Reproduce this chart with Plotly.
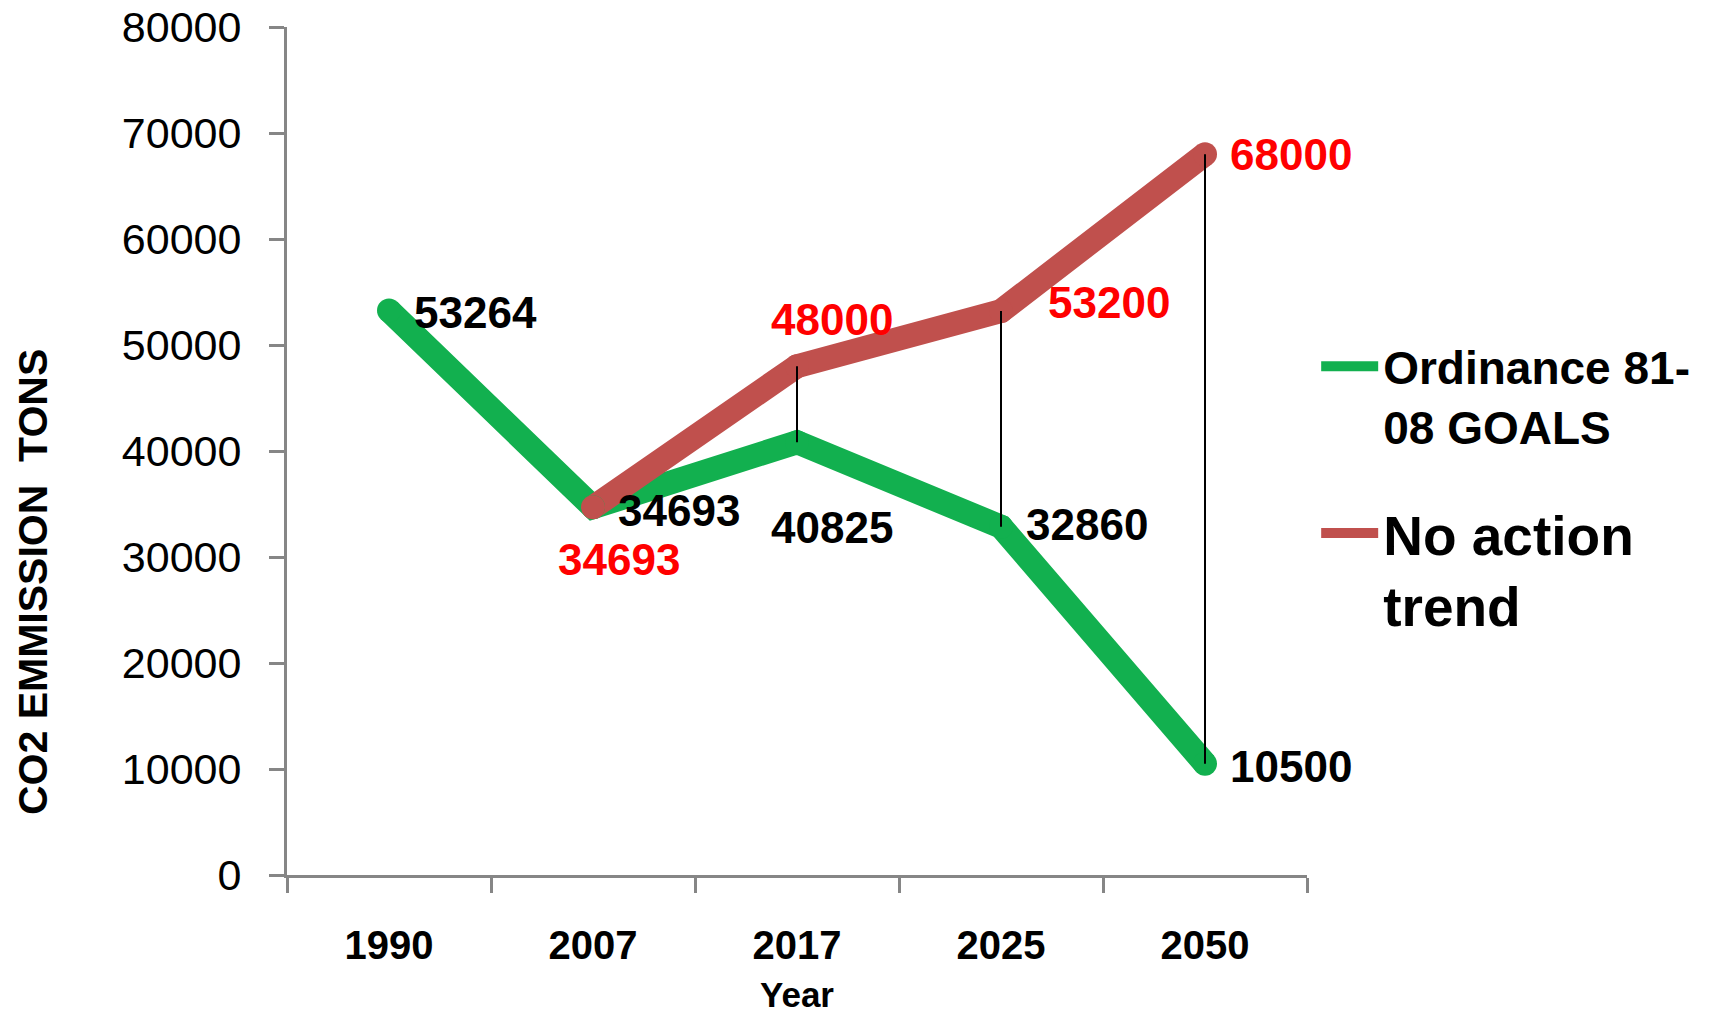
import plotly.graph_objects as go

years = ["1990", "2007", "2017", "2025", "2050"]
goals = [53264, 34693, 40825, 32860, 10500]
no_action = [None, 34693, 48000, 53200, 68000]
goal_name = "Ordinance 81-<br>08 GOALS"
trend_name = "No action<br>trend"

GREEN = "#12B04F"
RED = "#C0504D"
LW = 24

fig = go.Figure()
fig.add_trace(go.Scatter(x=years, y=goals, mode="lines", name=goal_name,
                         line=dict(color=GREEN, width=LW), legend="legend"))
fig.add_trace(go.Scatter(x=years, y=no_action, mode="lines", name=trend_name,
                         line=dict(color=RED, width=LW), legend="legend2"))
# rounded joins/caps
fig.add_trace(go.Scatter(x=years, y=goals, mode="markers", showlegend=False,
                         marker=dict(color=GREEN, size=LW)))
fig.add_trace(go.Scatter(x=years, y=no_action, mode="markers", showlegend=False,
                         marker=dict(color=RED, size=LW)))

# high-low drop lines
dx, dy = [], []
for yr, g, r in zip(years, goals, no_action):
    if r is None:
        continue
    dx += [yr, yr, None]
    dy += [r, g, None]
fig.add_trace(go.Scatter(x=dx, y=dy, mode="lines", showlegend=False,
                         line=dict(color="black", width=2)))

LBL = dict(family="Liberation Sans", size=44)
green_off = [(23, -2), (23, -3), (-28, -85), (23, 2), (23, -3)]
red_off = [None, (-37, -52), (-28, 47), (45, 9), (23, 0)]
for i, (v, off) in enumerate(zip(goals, green_off)):
    fig.add_annotation(x=i, y=v, text=f"<b>{v}</b>", showarrow=False,
                       xanchor="left", yanchor="middle", xshift=off[0], yshift=off[1],
                       font=dict(color="black", **LBL))
for i, (v, off) in enumerate(zip(no_action, red_off)):
    if v is None:
        continue
    fig.add_annotation(x=i, y=v, text=f"<b>{v}</b>", showarrow=False,
                       xanchor="left", yanchor="middle", xshift=off[0], yshift=off[1],
                       font=dict(color="red", **LBL))

# axis titles
fig.add_annotation(xref="paper", yref="paper", x=0, y=0.3455, xshift=-254,
                   text="<b>CO2 EMMISSION \u00a0TONS</b>", textangle=-90,
                   showarrow=False, xanchor="center", yanchor="middle",
                   font=dict(family="Liberation Sans", size=41, color="black"))
fig.add_annotation(xref="paper", yref="paper", x=0.5, y=-0.1651,
                   text="<b>Year</b>", showarrow=False, xanchor="center", yanchor="bottom",
                   borderpad=0,
                   font=dict(family="Liberation Sans", size=35, color="black"))

fig.update_layout(
    width=1712, height=1016,
    margin=dict(l=287, r=405, t=27, b=141),
    plot_bgcolor="white", paper_bgcolor="white",
    font=dict(family="Liberation Sans", color="black"),
    legend=dict(x=1.009, y=0.643, xanchor="left", yanchor="top", valign="top",
                itemwidth=57,
                font=dict(family="Liberation Sans", size=46, color="black", weight="bold"),
                bgcolor="rgba(0,0,0,0)"),
    legend2=dict(x=1.009, y=0.453, xanchor="left", yanchor="top", valign="top",
                 itemwidth=57,
                 font=dict(family="Liberation Sans", size=55, color="black", weight="bold"),
                 bgcolor="rgba(0,0,0,0)"),
    xaxis=dict(type="category", range=[-0.5, 4.5], showline=True, linecolor="#868686",
               linewidth=3, ticks="outside", tickson="boundaries", ticklen=15,
               tickcolor="#868686", tickwidth=3, showgrid=False, zeroline=False,
               automargin=False, ticklabelstandoff=33,
               tickfont=dict(family="Liberation Sans", size=40, weight="bold")),
    yaxis=dict(range=[0, 80000], dtick=10000, tickformat="d", showline=True,
               linecolor="#868686", linewidth=3, ticks="outside", ticklen=15,
               tickcolor="#868686", tickwidth=3, showgrid=False, zeroline=False,
               automargin=False, ticklabelstandoff=19, ticklabeloverflow="allow",
               tickfont=dict(family="Liberation Sans", size=43)),
)

fig.write_html("out.html", config={"displayModeBar": False},
               post_script="document.body.style.margin='0';document.body.style.overflow='hidden';")
